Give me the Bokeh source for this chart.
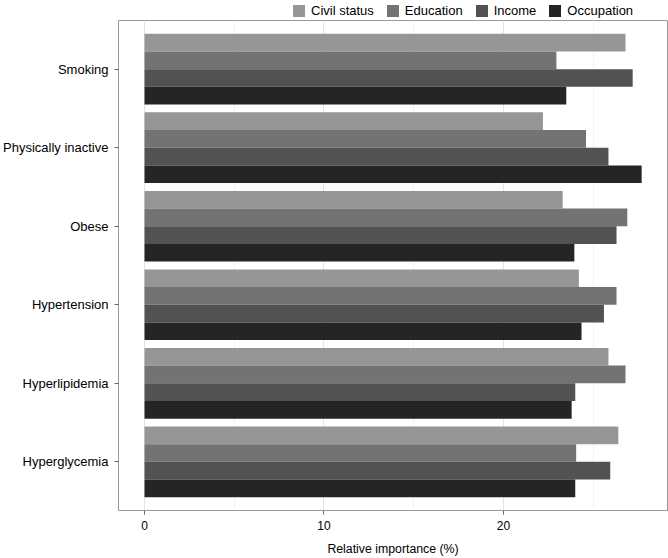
from bokeh.plotting import figure
from bokeh.layouts import column
from bokeh.models import FactorRange, Range1d, Legend, SingleIntervalTicker, ColumnDataSource
from bokeh.transform import dodge
from bokeh.embed import file_html
from bokeh.resources import INLINE

categories = ["Smoking", "Physically inactive", "Obese", "Hypertension", "Hyperlipidemia", "Hyperglycemia"]
civil_status = [26.8, 22.2, 23.3, 24.2, 25.85, 26.4]
education = [22.95, 24.6, 26.9, 26.3, 26.8, 24.05]
income = [27.2, 25.85, 26.3, 25.6, 24.0, 25.95]
occupation = [23.5, 27.7, 23.95, 24.35, 23.8, 24.0]
series_names = ["Civil status", "Education", "Income", "Occupation"]
series_colors = ["#969696", "#737373", "#525252", "#252525"]

src = ColumnDataSource(dict(cat=categories, civil=civil_status, edu=education, inc=income, occ=occupation))
cols = ["civil", "edu", "inc", "occ"]

FONT = "Liberation Sans"
W = 668
LEG_H = 20
H = 538
BOTTOM, LEFT, RIGHT = 45, 118, 1

# legend strip (separate small figure above the chart; its frame aligns with the chart frame)
pl = figure(width=W, height=LEG_H, output_backend="svg", toolbar_location=None,
            x_axis_type=None, y_axis_type=None, x_range=Range1d(0, 1), y_range=Range1d(0, 1),
            min_border=0, min_border_left=LEFT, min_border_right=RIGHT)
pl.outline_line_color = None
pl.grid.visible = False
leg_renderers = []
for col, color in zip(cols, series_colors):
    # legend proxies: out of the visible range, only their legend swatches show
    leg_renderers.append(pl.hbar(y=-5, right=col, left=0, height=0.5, source=src,
                                 fill_color=color, line_color=None))
legend = Legend(items=[(n, [r]) for n, r in zip(series_names, leg_renderers)],
                orientation="horizontal", location=(173, 2),
                glyph_width=15, glyph_height=15, label_standoff=5, spacing=11,
                label_text_font=FONT, label_text_font_size="13px", label_text_color="black",
                label_height=15, padding=0, margin=0, border_line_color=None,
                background_fill_alpha=0)
pl.add_layout(legend, "center")

# main chart
p = figure(width=W, height=H, output_backend="svg", toolbar_location=None,
           y_range=FactorRange(factors=categories[::-1], range_padding=0.12, range_padding_units="absolute"),
           x_range=Range1d(-1.45, 29.14),
           min_border_left=LEFT, min_border_right=RIGHT, min_border_top=0, min_border_bottom=BOTTOM)

bh = 0.225
offsets = [1.5 * bh, 0.5 * bh, -0.5 * bh, -1.5 * bh]
for col, off, color in zip(cols, offsets, series_colors):
    p.hbar(y=dodge("cat", off, range=p.y_range), right=col, left=0, height=bh,
           source=src, fill_color=color, line_color=None)

p.outline_line_color = "#999999"
p.outline_line_width = 1

p.xaxis.ticker = SingleIntervalTicker(interval=10, num_minor_ticks=2)
p.xaxis.axis_label = "Relative importance (%)"
p.xaxis.axis_label_text_font = FONT
p.xaxis.axis_label_text_font_size = "12.3px"
p.xaxis.axis_label_text_font_style = "normal"
p.xaxis.axis_label_text_color = "black"
p.xaxis.axis_label_standoff = 9

for ax in (p.xaxis, p.yaxis):
    ax.axis_line_color = None
    ax.major_tick_line_color = "#666666"
    ax.major_tick_out = 4
    ax.major_tick_in = 0
    ax.minor_tick_line_color = None
    ax.major_label_text_font = FONT
    ax.major_label_text_color = "black"
p.xaxis.major_label_text_font_size = "12px"
p.yaxis.major_label_text_font_size = "13px"
p.xaxis.major_label_standoff = 6
p.yaxis.major_label_standoff = 6

p.xgrid.grid_line_color = "#e3e3e3"
p.xgrid.grid_line_width = 1
p.xgrid.minor_grid_line_color = "#f2f2f2"
p.xgrid.minor_grid_line_width = 1
p.ygrid.grid_line_color = None

layout = column(pl, p, spacing=0)
open("out.html", "w").write(file_html(layout, INLINE))
